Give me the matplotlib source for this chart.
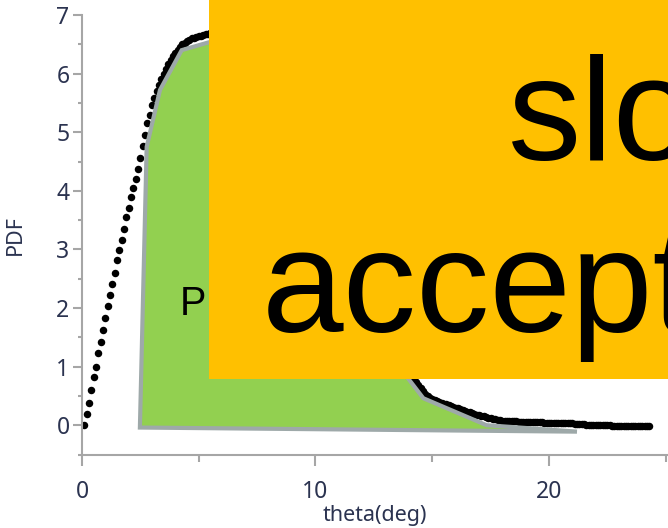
import numpy as np
import matplotlib
matplotlib.use("Agg")
import matplotlib.pyplot as plt
from matplotlib.patches import Polygon, Rectangle
from matplotlib.ticker import MultipleLocator

# measured PDF, one dot every 0.1 deg starting at 0.1 deg
pdf = [
    0.00, 0.19, 0.38, 0.60, 0.82, 1.00, 1.23, 1.42, 1.62, 1.83,
    2.03, 2.22, 2.41, 2.60, 2.82, 2.99, 3.16, 3.34, 3.55, 3.70,
    3.89, 4.04, 4.20, 4.38, 4.56, 4.76, 4.95, 5.15, 5.30, 5.46,
    5.58, 5.70, 5.80, 5.90, 5.99, 6.08, 6.16, 6.23, 6.30, 6.36,
    6.41, 6.46, 6.50, 6.53, 6.56, 6.58, 6.60, 6.61, 6.63, 6.64,
    6.65, 6.66, 6.67, 6.68, 6.69, 6.70, 6.70, 6.71, 6.71, 6.71,
    6.70, 6.70, 6.69, 6.68, 6.66, 6.64, 6.62, 6.59, 6.56, 6.53,
    6.49, 6.45, 6.41, 6.37, 6.32, 6.27, 6.22, 6.16, 6.10, 6.04,
    5.98, 5.91, 5.84, 5.77, 5.70, 5.62, 5.54, 5.46, 5.38, 5.30,
    5.21, 5.12, 5.03, 4.94, 4.85, 4.76, 4.66, 4.57, 4.47, 4.38,
    4.28, 4.18, 4.08, 3.98, 3.88, 3.78, 3.68, 3.58, 3.48, 3.38,
    3.28, 3.18, 3.08, 2.98, 2.88, 2.78, 2.68, 2.58, 2.48, 2.38,
    2.28, 2.19, 2.09, 2.00, 1.91, 1.82, 1.73, 1.64, 1.56, 1.47,
    1.40, 1.33, 1.26, 1.19, 1.13, 1.07, 1.01, 0.96, 0.91, 0.87,
    0.83, 0.79, 0.74, 0.69, 0.64, 0.59, 0.54, 0.50, 0.47, 0.45,
    0.43, 0.41, 0.40, 0.38, 0.37, 0.36, 0.34, 0.33, 0.31, 0.30,
    0.29, 0.27, 0.26, 0.25, 0.23, 0.22, 0.21, 0.19, 0.18, 0.17,
    0.16, 0.15, 0.14, 0.13, 0.12, 0.11, 0.10, 0.09, 0.09, 0.08,
    0.08, 0.08, 0.07, 0.07, 0.07, 0.07, 0.06, 0.06, 0.06, 0.06,
    0.06, 0.05, 0.05, 0.05, 0.05, 0.05, 0.05, 0.04, 0.04, 0.04,
    0.04, 0.04, 0.04, 0.04, 0.03, 0.03, 0.03, 0.03, 0.03, 0.03,
    0.02, 0.02, 0.02, 0.02, 0.02, 0.01, 0.01, 0.01, 0.01, 0.01,
    0.00, 0.00, 0.00, 0.00, 0.00, 0.00, -0.01, -0.01, -0.01, -0.01,
    -0.01, -0.01, -0.01, -0.01, -0.01, -0.01, -0.01, -0.01, -0.01, -0.01,
    -0.02, -0.02, -0.02,
]
theta = 0.1 * np.arange(1, len(pdf) + 1)

# outline of the shaded (accepted) region
poly_theta = [2.48, 2.77, 3.34, 4.27, 6.0, 8.0, 10.0, 12.0, 13.0, 14.62, 17.33, 21.2]
poly_pdf = [-0.04, 4.75, 5.72, 6.40, 6.60, 5.90, 4.30, 2.40, 1.30, 0.46, 0.00, -0.11]

W, H = 668, 528
fig = plt.figure(figsize=(W / 100, H / 100), dpi=100)
ax = fig.add_axes([82 / W, (H - 454.5) / H, (W - 82) / W, (454.5 - 15) / H])

ax.plot(theta, pdf, 'o', color='black', markersize=5.4, markeredgewidth=0, zorder=2)

poly = Polygon(np.column_stack([poly_theta, poly_pdf]), closed=True,
               facecolor='#92D050', edgecolor='#9EA9A9', linewidth=3.0,
               joinstyle='miter', zorder=3)
ax.add_patch(poly)

ax.text(4.2, 1.88, "P", fontsize=28.5, family='Liberation Sans',
        ha='left', va='baseline', color='black', zorder=4)

ax.set_xlim(0, 25.1)
ax.set_ylim(-0.5, 7)
ax.xaxis.set_major_locator(MultipleLocator(10))
ax.xaxis.set_minor_locator(MultipleLocator(5))
ax.yaxis.set_major_locator(MultipleLocator(1))
ax.yaxis.set_minor_locator(MultipleLocator(0.5))

gray = '#A6A6A6'
for s in ['top', 'right']:
    ax.spines[s].set_visible(False)
for s in ['left', 'bottom']:
    ax.spines[s].set_color(gray)
    ax.spines[s].set_linewidth(1.5)

lab_color = '#2B3350'
ax.tick_params(axis='both', which='both', direction='out', color=gray,
               width=1.5, labelcolor=lab_color, labelsize=16.5)
ax.tick_params(axis='y', which='major', length=6.5, pad=2.5)
ax.tick_params(axis='y', which='minor', length=3)
ax.tick_params(axis='x', which='major', length=8, pad=10)
ax.tick_params(axis='x', which='minor', length=5)
for lbl in ax.get_xticklabels() + ax.get_yticklabels():
    lbl.set_family('Noto Sans')

ax.set_xlabel("theta(deg)", fontsize=15.5, family='Noto Sans', color=lab_color, labelpad=1)
ax.set_ylabel("PDF", fontsize=15.5, family='Noto Sans', color=lab_color, labelpad=22)

# orange overlay box with large text
fig.add_artist(Rectangle((209 / W, (H - 379) / H), (W - 209) / W, 379 / H,
                         transform=fig.transFigure, facecolor='#FFC000',
                         edgecolor='none', zorder=10))
fig.text(508 / W, (H - 160) / H, "slo", fontsize=105.6, family='Liberation Sans',
         ha='left', va='baseline', color='black', zorder=11)
fig.text(262 / W, (H - 332) / H, "accept", fontsize=105.6, family='Liberation Sans',
         ha='left', va='baseline', color='black', zorder=11)

fig.savefig("out.png", dpi=100)
